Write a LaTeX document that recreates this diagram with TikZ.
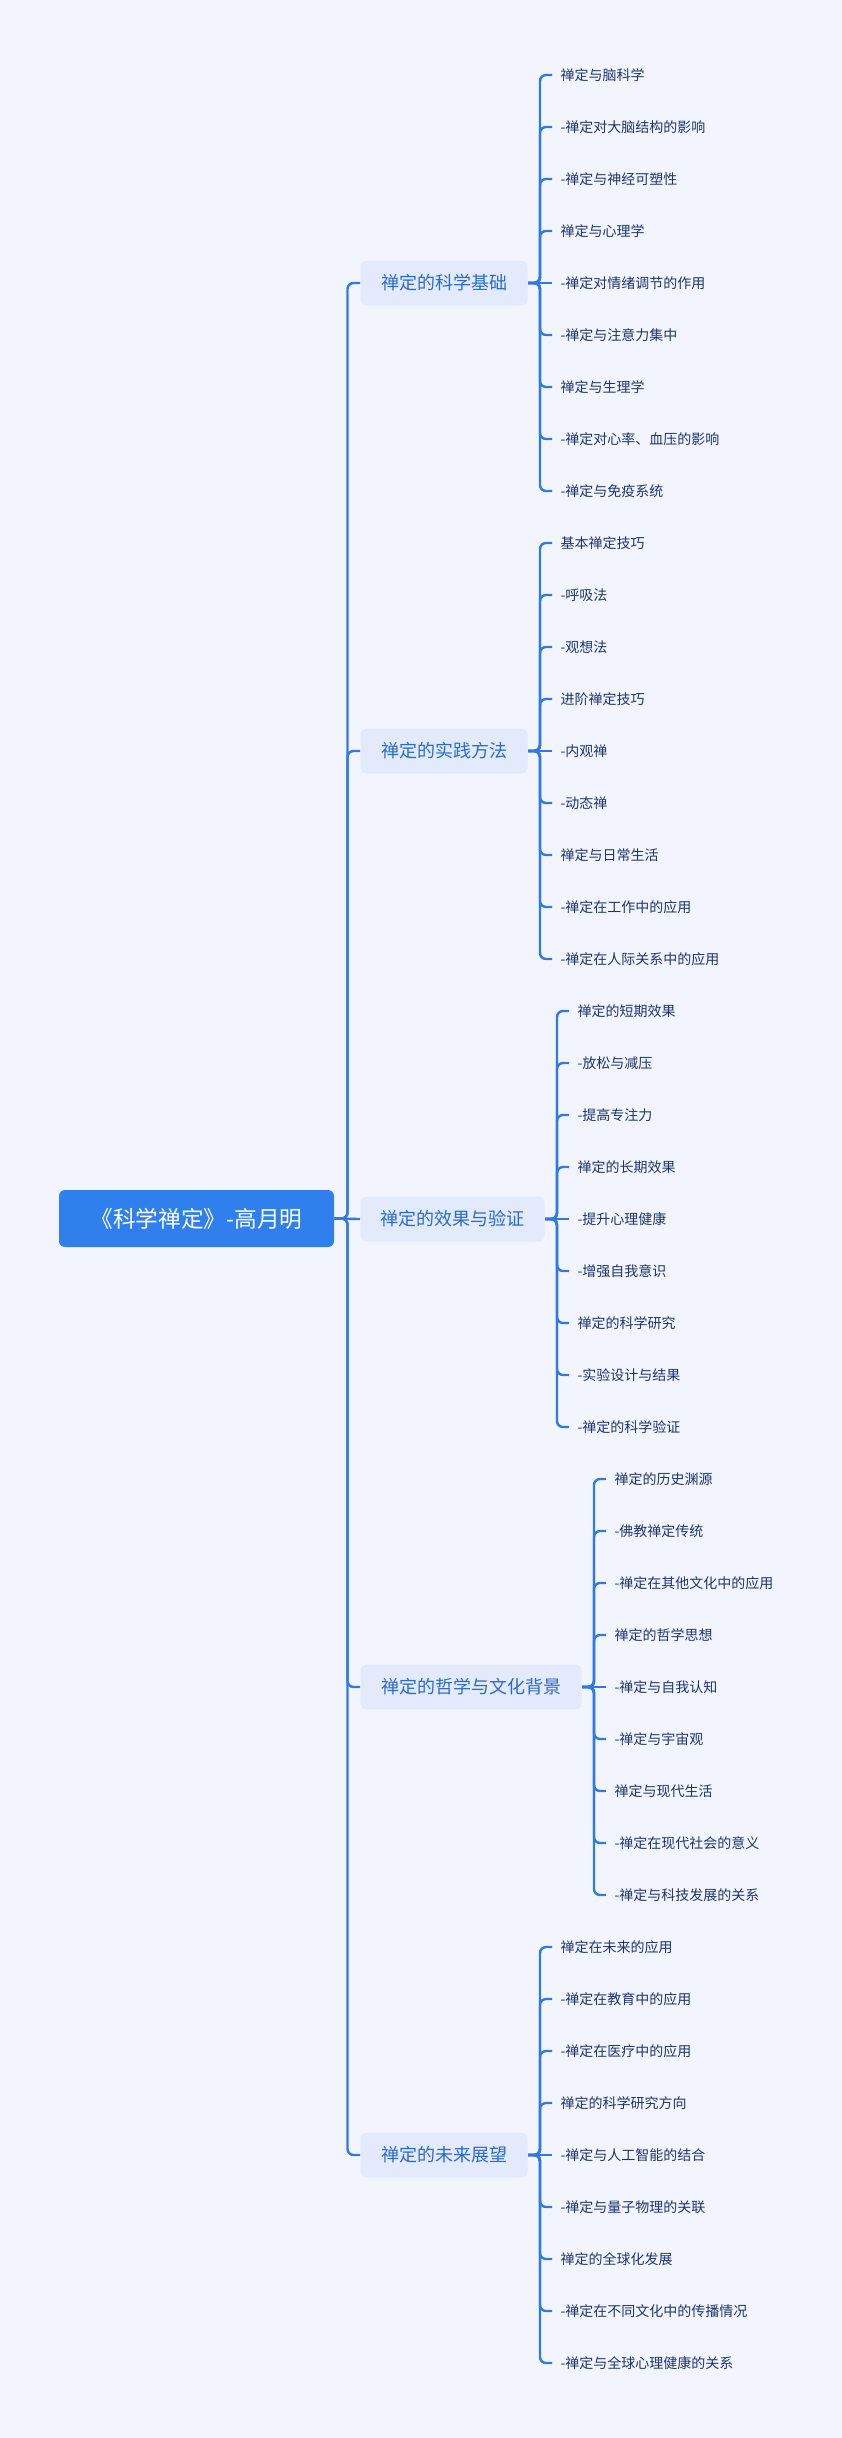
\documentclass[tikz,border=0pt]{standalone}
\usepackage{fontspec}
\newfontfamily\cjk{Noto Sans CJK SC}
\tikzset{every picture/.style={line width=0.75pt}}
\tikzset{
  rootbox/.style={fill={rgb, 255:red, 47; green, 128; blue, 237}, rounded corners=4.5pt, text=white, font=\cjk\fontsize{17pt}{20pt}\selectfont, minimum width=206.25pt, minimum height=42.75pt, inner sep=0pt},
  branchbox/.style={fill={rgb, 255:red, 226; green, 234; blue, 252}, rounded corners=4.5pt, text={rgb, 255:red, 43; green, 107; blue, 200}, font=\cjk\fontsize{13.5pt}{16pt}\selectfont, minimum height=33.75pt, inner sep=0pt, anchor=west},
  leaf/.style={text={rgb, 255:red, 30; green, 52; blue, 112}, font=\cjk\fontsize{10.5pt}{12pt}\selectfont, inner xsep=6pt, inner ysep=0pt, anchor=west},
  link/.style={draw={rgb, 255:red, 47; green, 123; blue, 226}, line width=1.8pt, rounded corners=4.5pt}
}
\begin{document}
\begin{tikzpicture}[x=0.75pt,y=0.75pt,yscale=-1,xscale=1]
%background, sets the diagram size
\fill [fill={rgb, 255:red, 243; green, 245; blue, 254}] (0,0) rectangle (842,2438);
\useasboundingbox (0,0) rectangle (842,2438);

%Root
\node [rootbox] (root) at (196.5,1218.5) {《科学禅定》-高月明};

%Branches
\node [branchbox, minimum width=125.25pt] (sci) at (360,283) {禅定的科学基础};
\node [branchbox, minimum width=125.25pt] (prac) at (360,751) {禅定的实践方法};
\node [branchbox, minimum width=138pt] (eff) at (360,1219) {禅定的效果与验证};
\node [branchbox, minimum width=165.75pt] (phil) at (360,1687) {禅定的哲学与文化背景};
\node [branchbox, minimum width=125.25pt] (fut) at (360,2155) {禅定的未来展望};

%Trunk
\draw [link] (root.east) -- ++(13,0) |- (sci.west);
\draw [link] (root.east) -- ++(13,0) |- (prac.west);
\draw [link] (root.east) -- (eff.west);
\draw [link] (root.east) -- ++(13,0) |- (phil.west);
\draw [link] (root.east) -- ++(13,0) |- (fut.west);

% Text Node: 禅定的科学基础
\node [leaf] (sci1) at (552,75) {禅定与脑科学};
\node [leaf] (sci2) at (552,127) {-禅定对大脑结构的影响};
\node [leaf] (sci3) at (552,179) {-禅定与神经可塑性};
\node [leaf] (sci4) at (552,231) {禅定与心理学};
\node [leaf] (sci5) at (552,283) {-禅定对情绪调节的作用};
\node [leaf] (sci6) at (552,335) {-禅定与注意力集中};
\node [leaf] (sci7) at (552,387) {禅定与生理学};
\node [leaf] (sci8) at (552,439) {-禅定对心率、血压的影响};
\node [leaf] (sci9) at (552,491) {-禅定与免疫系统};
\draw [link] (sci.east) -- ++(12,0) |- (sci1.west);
\draw [link] (sci.east) -- ++(12,0) |- (sci2.west);
\draw [link] (sci.east) -- ++(12,0) |- (sci3.west);
\draw [link] (sci.east) -- ++(12,0) |- (sci4.west);
\draw [link] (sci.east) -- (sci5.west);
\draw [link] (sci.east) -- ++(12,0) |- (sci6.west);
\draw [link] (sci.east) -- ++(12,0) |- (sci7.west);
\draw [link] (sci.east) -- ++(12,0) |- (sci8.west);
\draw [link] (sci.east) -- ++(12,0) |- (sci9.west);

% Text Node: 禅定的实践方法
\node [leaf] (prac1) at (552,543) {基本禅定技巧};
\node [leaf] (prac2) at (552,595) {-呼吸法};
\node [leaf] (prac3) at (552,647) {-观想法};
\node [leaf] (prac4) at (552,699) {进阶禅定技巧};
\node [leaf] (prac5) at (552,751) {-内观禅};
\node [leaf] (prac6) at (552,803) {-动态禅};
\node [leaf] (prac7) at (552,855) {禅定与日常生活};
\node [leaf] (prac8) at (552,907) {-禅定在工作中的应用};
\node [leaf] (prac9) at (552,959) {-禅定在人际关系中的应用};
\draw [link] (prac.east) -- ++(12,0) |- (prac1.west);
\draw [link] (prac.east) -- ++(12,0) |- (prac2.west);
\draw [link] (prac.east) -- ++(12,0) |- (prac3.west);
\draw [link] (prac.east) -- ++(12,0) |- (prac4.west);
\draw [link] (prac.east) -- (prac5.west);
\draw [link] (prac.east) -- ++(12,0) |- (prac6.west);
\draw [link] (prac.east) -- ++(12,0) |- (prac7.west);
\draw [link] (prac.east) -- ++(12,0) |- (prac8.west);
\draw [link] (prac.east) -- ++(12,0) |- (prac9.west);

% Text Node: 禅定的效果与验证
\node [leaf] (eff1) at (569,1011) {禅定的短期效果};
\node [leaf] (eff2) at (569,1063) {-放松与减压};
\node [leaf] (eff3) at (569,1115) {-提高专注力};
\node [leaf] (eff4) at (569,1167) {禅定的长期效果};
\node [leaf] (eff5) at (569,1219) {-提升心理健康};
\node [leaf] (eff6) at (569,1271) {-增强自我意识};
\node [leaf] (eff7) at (569,1323) {禅定的科学研究};
\node [leaf] (eff8) at (569,1375) {-实验设计与结果};
\node [leaf] (eff9) at (569,1427) {-禅定的科学验证};
\draw [link] (eff.east) -- ++(12,0) |- (eff1.west);
\draw [link] (eff.east) -- ++(12,0) |- (eff2.west);
\draw [link] (eff.east) -- ++(12,0) |- (eff3.west);
\draw [link] (eff.east) -- ++(12,0) |- (eff4.west);
\draw [link] (eff.east) -- (eff5.west);
\draw [link] (eff.east) -- ++(12,0) |- (eff6.west);
\draw [link] (eff.east) -- ++(12,0) |- (eff7.west);
\draw [link] (eff.east) -- ++(12,0) |- (eff8.west);
\draw [link] (eff.east) -- ++(12,0) |- (eff9.west);

% Text Node: 禅定的哲学与文化背景
\node [leaf] (phil1) at (606,1479) {禅定的历史渊源};
\node [leaf] (phil2) at (606,1531) {-佛教禅定传统};
\node [leaf] (phil3) at (606,1583) {-禅定在其他文化中的应用};
\node [leaf] (phil4) at (606,1635) {禅定的哲学思想};
\node [leaf] (phil5) at (606,1687) {-禅定与自我认知};
\node [leaf] (phil6) at (606,1739) {-禅定与宇宙观};
\node [leaf] (phil7) at (606,1791) {禅定与现代生活};
\node [leaf] (phil8) at (606,1843) {-禅定在现代社会的意义};
\node [leaf] (phil9) at (606,1895) {-禅定与科技发展的关系};
\draw [link] (phil.east) -- ++(12,0) |- (phil1.west);
\draw [link] (phil.east) -- ++(12,0) |- (phil2.west);
\draw [link] (phil.east) -- ++(12,0) |- (phil3.west);
\draw [link] (phil.east) -- ++(12,0) |- (phil4.west);
\draw [link] (phil.east) -- (phil5.west);
\draw [link] (phil.east) -- ++(12,0) |- (phil6.west);
\draw [link] (phil.east) -- ++(12,0) |- (phil7.west);
\draw [link] (phil.east) -- ++(12,0) |- (phil8.west);
\draw [link] (phil.east) -- ++(12,0) |- (phil9.west);

% Text Node: 禅定的未来展望
\node [leaf] (fut1) at (552,1947) {禅定在未来的应用};
\node [leaf] (fut2) at (552,1999) {-禅定在教育中的应用};
\node [leaf] (fut3) at (552,2051) {-禅定在医疗中的应用};
\node [leaf] (fut4) at (552,2103) {禅定的科学研究方向};
\node [leaf] (fut5) at (552,2155) {-禅定与人工智能的结合};
\node [leaf] (fut6) at (552,2207) {-禅定与量子物理的关联};
\node [leaf] (fut7) at (552,2259) {禅定的全球化发展};
\node [leaf] (fut8) at (552,2311) {-禅定在不同文化中的传播情况};
\node [leaf] (fut9) at (552,2363) {-禅定与全球心理健康的关系};
\draw [link] (fut.east) -- ++(12,0) |- (fut1.west);
\draw [link] (fut.east) -- ++(12,0) |- (fut2.west);
\draw [link] (fut.east) -- ++(12,0) |- (fut3.west);
\draw [link] (fut.east) -- ++(12,0) |- (fut4.west);
\draw [link] (fut.east) -- (fut5.west);
\draw [link] (fut.east) -- ++(12,0) |- (fut6.west);
\draw [link] (fut.east) -- ++(12,0) |- (fut7.west);
\draw [link] (fut.east) -- ++(12,0) |- (fut8.west);
\draw [link] (fut.east) -- ++(12,0) |- (fut9.west);

\end{tikzpicture}
\end{document}
